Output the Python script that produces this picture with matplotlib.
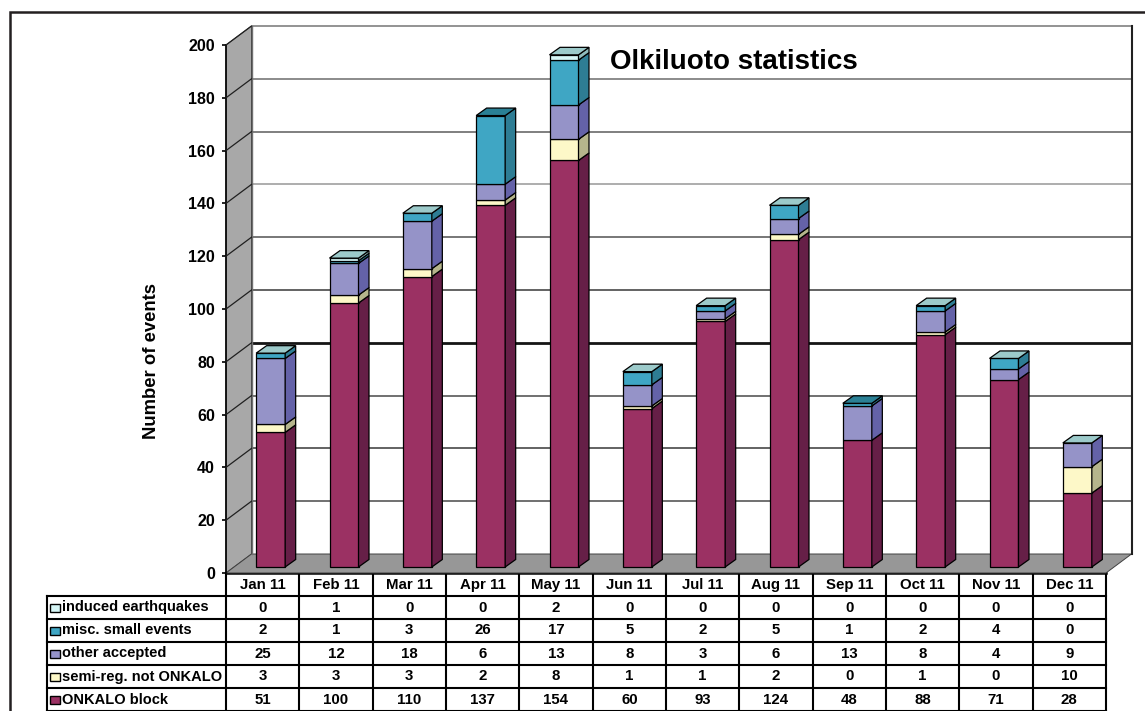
import matplotlib
matplotlib.use("Agg")
import matplotlib.pyplot as plt
from matplotlib.patches import Polygon, Rectangle
from matplotlib.transforms import Affine2D

plt.rcParams["font.family"] = ["Liberation Sans", "DejaVu Sans"]
plt.rcParams["font.weight"] = "bold"

months = ["Jan 11", "Feb 11", "Mar 11", "Apr 11", "May 11", "Jun 11",
          "Jul 11", "Aug 11", "Sep 11", "Oct 11", "Nov 11", "Dec 11"]

onkalo = [51, 100, 110, 137, 154, 60, 93, 124, 48, 88, 71, 28]
semi_reg = [3, 3, 3, 2, 8, 1, 1, 2, 0, 1, 0, 10]
other = [25, 12, 18, 6, 13, 8, 3, 6, 13, 8, 4, 9]
misc = [2, 1, 3, 26, 17, 5, 2, 5, 1, 2, 4, 0]
induced = [0, 1, 0, 0, 2, 0, 0, 0, 0, 0, 0, 0]

y_ticks = [0, 20, 40, 60, 80, 100, 120, 140, 160, 180, 200]

# bottom to top of the stack: name, values, front colour, side colour
series = [
    ("ONKALO block", onkalo, "#9b3163", "#661f47"),
    ("semi-reg. not ONKALO", semi_reg, "#fdf8c8", "#b5b58c"),
    ("other accepted", other, "#9593c8", "#6462a8"),
    ("misc. small events", misc, "#3fa6c4", "#2e7d94"),
    ("induced earthquakes", induced, "#d6f6f6", "#8fbcbc"),
]

fig = plt.figure(figsize=(11.45, 7.11), dpi=100, facecolor="white")

# overlay in pixel units for the frame and the table under the chart
page = fig.add_axes([0, 0, 1, 1], zorder=0)
page.set_xlim(0, 1145)
page.set_ylim(711, 0)
page.axis("off")

# front plane of the chart, depth is added with pixel offsets
ax = fig.add_axes([226 / 1145, (711 - 573) / 711, 880 / 1145, 528 / 711], zorder=1)
ax.set_xlim(0, 12)
ax.set_ylim(0, 200)
ax.patch.set_alpha(0)
for side in ["top", "right", "bottom"]:
    ax.spines[side].set_visible(False)
ax.spines["left"].set_linewidth(1.2)
ax.set_xticks([])
ax.set_yticks(y_ticks)
ax.tick_params(axis="y", length=3, width=1.2, pad=5, labelsize=11.5)


def shifted(dx, dy):
    return ax.transData + Affine2D().translate(dx, dy)


wall = shifted(25.5, 19)
bar_base = shifted(8, 6)
wall_x = 25.5 / 880 * 12
wall_y = 19 / 2.64

# left wall and floor
ax.add_patch(Polygon([(0, 0), (0, 200), (wall_x, 200 + wall_y), (wall_x, wall_y)],
                     facecolor="#a8a8a8", edgecolor="#404040", lw=0.7, clip_on=False, zorder=1))
ax.add_patch(Polygon([(0, 0), (12, 0), (12 + wall_x, wall_y), (wall_x, wall_y)],
                     facecolor="#979797", edgecolor="#404040", lw=0.7, clip_on=False, zorder=1))

# back wall gridlines
grid_colors = {200: "#808080", 180: "#787878", 160: "#6a6a6a", 140: "#a0a0a0", 120: "#606060",
               100: "#484848", 80: "#151515", 60: "#585858", 40: "#484848", 20: "#585858"}
for t in y_ticks[1:]:
    ax.plot([0, 12], [t, t], transform=wall, color=grid_colors[t], lw=2.0 if t == 80 else 1.2,
            clip_on=False, zorder=2, solid_capstyle="butt")
    # diagonal on the left wall
    ax.plot([0, wall_x], [t, t + wall_y], color="#202020", lw=0.9, clip_on=False, zorder=3)
ax.plot([12, 12], [0, 200], transform=wall, color="#202020", lw=1.5, clip_on=False, zorder=2)
ax.plot([0, 0], [0, 200], transform=wall, color="#707070", lw=1, clip_on=False, zorder=2)

# stacked bars with a side and a top face
width = 29 / 880 * 12
dep_x = 10.5 / 880 * 12
dep_y = 7.5 / 2.64
for i, month in enumerate(months):
    left = i + 0.5 - width / 2
    right = left + width
    bottom = 0
    for name, values, front, side_col in series:
        v = values[i]
        if v == 0:
            continue
        ax.bar(left, v, width, bottom=bottom, align="edge", color=front, edgecolor="black",
               lw=0.9, transform=bar_base, clip_on=False, zorder=4)
        ax.add_patch(Polygon([(right, bottom), (right + dep_x, bottom + dep_y),
                              (right + dep_x, bottom + v + dep_y), (right, bottom + v)],
                             facecolor=side_col, edgecolor="black", lw=0.9,
                             transform=bar_base, clip_on=False, zorder=4))
        bottom += v
    top_col = "#2a8095" if month in ["Apr 11", "Sep 11"] else "#9ccaca"
    ax.add_patch(Polygon([(left, bottom), (left + dep_x, bottom + dep_y),
                          (right + dep_x, bottom + dep_y), (right, bottom)],
                         facecolor=top_col, edgecolor="black", lw=0.9,
                         transform=bar_base, clip_on=False, zorder=4))

page.text(734, 62, "Olkiluoto statistics", fontsize=20, ha="center", va="center")
page.text(151, 361, "Number of events", fontsize=13.3, rotation=90, ha="center", va="center")

# outer frame
page.plot([9.5, 9.5, 1145], [711, 12, 12], color="#231f20", lw=1.8, solid_joinstyle="miter")

# table below the chart
col_x = [226 + 880 / 12 * k for k in range(13)]
row_y = [573, 596, 619, 642, 665, 688, 711]
line = dict(color="black", lw=1.5, solid_capstyle="projecting")
for x in col_x:
    page.plot([x, x], [573, 711], **line)
page.plot([46.5, 46.5], [596, 711], **line)
page.plot([226, 1106], [573, 573], color="black", lw=1.8)
for y in row_y[1:]:
    page.plot([46.5, 1106], [y, y], **line)

for k, month in enumerate(months):
    page.text(col_x[k] + 880 / 24, 585, month, fontsize=10.8, ha="center", va="center")

for r, (name, values, front, side_col) in enumerate(reversed(series)):
    yc = (row_y[r + 1] + row_y[r + 2]) / 2
    page.add_patch(Rectangle((50, yc - 4), 9.5, 8, facecolor=front, edgecolor="black", lw=1.0))
    page.text(61.5, yc, name, fontsize=10.5, ha="left", va="center")
    for k, v in enumerate(values):
        page.text(col_x[k] + 880 / 24, yc, str(v), fontsize=10.8, ha="center", va="center")

fig.savefig("out.png", dpi=100)
